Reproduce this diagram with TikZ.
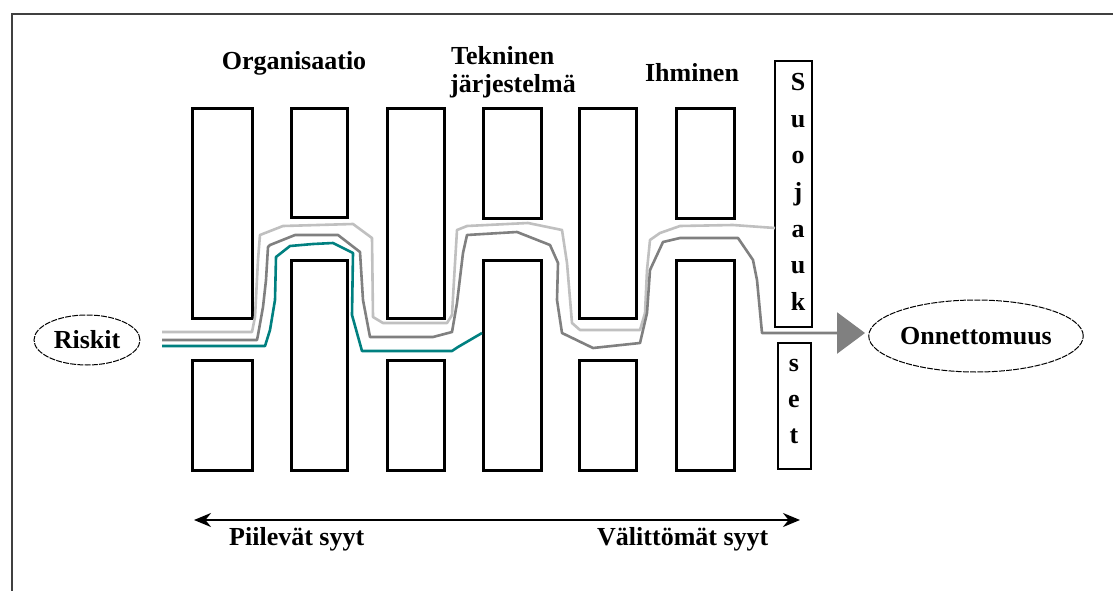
\documentclass[tikz,border=0pt]{standalone}
\usepackage{fontspec}
\setmainfont{Liberation Serif}
\usetikzlibrary{arrows.meta,shapes.geometric}
\definecolor{pathlight}{HTML}{C0C0C0}
\definecolor{pathmid}{HTML}{808080}
\definecolor{pathteal}{HTML}{008080}
\definecolor{framegray}{HTML}{404040}
\begin{document}
\begin{tikzpicture}[x=1pt,y=-1pt,
  bar/.style={draw=black,line width=3pt},
  shieldbox/.style={draw=black,line width=1.3pt},
  lbl/.style={font=\bfseries\fontsize{26}{30}\selectfont,inner sep=0pt},
  letter/.style={lbl,anchor=base},
  oval/.style={ellipse,draw=black,line width=1pt,dash pattern=on 6pt off 1.2pt,inner sep=0pt,
               font=\bfseries\fontsize{26}{30}\selectfont},
  route/.style={line width=2.6pt,line join=round},
  scale arrow/.style={line width=2pt,{Stealth[length=17pt,width=14pt]}-{Stealth[length=17pt,width=14pt]}}]
\useasboundingbox (0,0) rectangle (1113,591);
\fill[white] (0,0) rectangle (1113,591);
% outer frame (top and left edges)
\draw[framegray,line width=2pt] (12,591) -- (12,14) -- (1113,14);

% barrier slices: upper and lower part of each slice
\foreach \xl/\xr/\ub/\lt in {192/252/318/360, 291/347/217/260, 387/444/318/360,
                             483/541/218/260, 579/636/318/360, 676/734/218/260}{
  \draw[bar] (\xl,109) rectangle (\xr,\ub);
  \draw[bar] (\xl,\lt) rectangle (\xr,470);
}

% group titles
\node[lbl,anchor=base] (org) at (294,70) {Organisaatio};
\node[lbl,anchor=base west] (tek) at (451,65) {Tekninen};
\node[lbl,anchor=base west] (jar) at (450,93) {järjestelmä};
\node[lbl,anchor=base] (ihm) at (692,82) {Ihminen};

% safeguards column
\draw[shieldbox] (775,61) rectangle (812,327);
\draw[shieldbox] (778,343) rectangle (811,469);
\foreach \ch [count=\i] in {S,u,o,j,a,u,k}
  \node[letter] (up\i) at (798,{91+36.5*(\i-1)}) {\ch};
\foreach \ch [count=\i] in {s,e,t}
  \node[letter] (lo\i) at (794,{371+36*(\i-1)}) {\ch};

% start and end
\node[oval,minimum width=106pt,minimum height=50pt] (risk) at (87,340) {Riskit};
\node[oval,minimum width=204pt,minimum height=72pt] (onn) at (976,336) {Onnettomuus};

\coordinate (start1) at (162,332);
\coordinate (start2) at (162,340);
\coordinate (start3) at (162,346);
\coordinate (hit) at (865,333);

% trajectories through the barriers
\draw[route,pathlight] (start1) -- (252,332) -- (255,317) -- (258,260) -- (260,235) -- (283,226)
  -- (353,224) -- (372,238) -- (373,317) -- (383,323) -- (447,323) -- (452,315) -- (454,280)
  -- (457,230) -- (467,226) -- (528,223) -- (562,230) -- (567,263) -- (572,323) -- (580,330)
  -- (640,330) -- (645,313) -- (647,270) -- (650,240) -- (660,233) -- (680,226) -- (733,225)
  -- (775,228);
\draw[route,pathmid,-{Triangle[length=28pt,width=41pt]}] (start2) -- (257,340) -- (258,335)
  -- (263,307) -- (266,280) -- (268,247) -- (270,245) -- (295,235) -- (338,235) -- (360,252)
  -- (363,300) -- (370,337) -- (433,337) -- (452,332) -- (457,303) -- (463,253) -- (467,235)
  -- (500,233) -- (517,232) -- (550,245) -- (558,263) -- (557,300) -- (562,333) -- (593,348)
  -- (640,343) -- (647,313) -- (650,270) -- (663,242) -- (680,238) -- (738,238) -- (753,260)
  -- (757,280) -- (762,333) -- (hit);
\draw[route,pathteal] (start3) -- (265,346) -- (270,330) -- (275,300) -- (276,257) -- (290,246)
  -- (313,244) -- (333,243) -- (353,253) -- (352,315) -- (362,351) -- (452,351) -- (458,347)
  -- (482,333);

% latent / immediate causes scale
\coordinate (latent) at (194,520);
\coordinate (active) at (800,520);
\draw[scale arrow] (latent) -- (active);
\node[lbl,anchor=base west] (piil) at (229,545) {Piilevät syyt};
\node[lbl,anchor=base west] (valit) at (597,545) {Välittömät syyt};
\end{tikzpicture}
\end{document}
